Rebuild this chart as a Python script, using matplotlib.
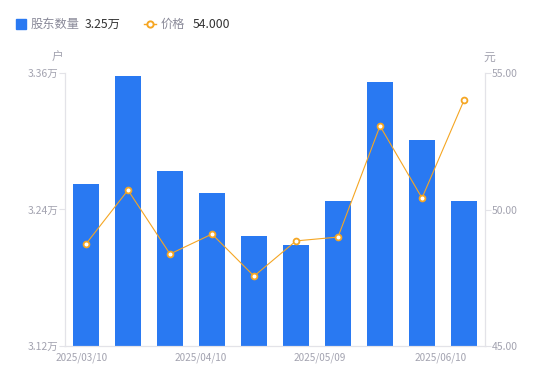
import matplotlib
matplotlib.use('Agg')
import matplotlib.pyplot as plt
import matplotlib.transforms as mtransforms
from matplotlib.lines import Line2D
from matplotlib.patches import Rectangle

plt.rcParams['font.family'] = ['Noto Sans CJK SC', 'DejaVu Sans']

dates = ['2025/03/10', '2025/03/20', '2025/03/31', '2025/04/10', '2025/04/18',
         '2025/04/30', '2025/05/09', '2025/05/20', '2025/05/30', '2025/06/10']
holders = [3.262, 3.357, 3.274, 3.2545, 3.2167, 3.2088, 3.2475, 3.352, 3.301, 3.2475]  # 万户
price = [48.74, 50.71, 48.37, 49.10, 47.56, 48.85, 48.99, 53.06, 50.42, 54.00]

left_ticks = [3.12, 3.24, 3.36]
right_ticks = [45.0, 50.0, 55.0]
shown_dates = [0, 3, 6, 9]

bar_color = '#2979F2'
line_color = '#F5A623'
axis_color = '#E3E3E8'
label_color = '#A3A3B0'

fig = plt.figure(figsize=(5.5, 3.81), dpi=100)
ax = fig.add_axes([65 / 550, 35 / 381, 420 / 550, 273 / 381])
ax2 = ax.twinx()

x = list(range(len(dates)))
ax.bar(x, holders, width=0.6, color=bar_color, zorder=2)
ax.set_ylim(left_ticks[0], left_ticks[-1])
ax.set_xlim(-0.5, len(dates) - 0.5)

ax2.plot(x, price, color=line_color, lw=0.8, marker='o', ms=4.2,
         mfc='white', mec=line_color, mew=1.3, zorder=3)
ax2.set_ylim(right_ticks[0], right_ticks[-1])

for a in (ax, ax2):
    for s in a.spines.values():
        s.set_color(axis_color)
        s.set_linewidth(0.8)
    a.spines['top'].set_visible(False)

ax.set_yticks(left_ticks)
ax.set_yticklabels([f'{v:.2f}万' for v in left_ticks])
ax2.set_yticks(right_ticks)
ax2.set_yticklabels([f'{v:.2f}' for v in right_ticks])
ax.tick_params(axis='y', colors=axis_color, labelcolor=label_color, labelsize=7.5,
               length=4, width=0.8, pad=1)
ax2.tick_params(axis='y', colors=axis_color, labelcolor=label_color, labelsize=7.5,
                length=4, width=0.8, pad=1)

ax.set_xticks([x[i] for i in shown_dates])
ax.set_xticklabels([dates[i] for i in shown_dates])
ax.tick_params(axis='x', length=0, labelsize=7.2, labelcolor=label_color, pad=5)
shifts = [-4, -11, -18, -23]
for lbl, dx in zip(ax.get_xticklabels(), shifts):
    lbl.set_transform(lbl.get_transform() +
                      mtransforms.ScaledTranslation(dx / 100, 0, fig.dpi_scale_trans))

# unit labels
fig.text(57 / 550, 1 - 57 / 381, '户', fontsize=8.5, color=label_color, ha='center', va='center')
fig.text(489 / 550, 1 - 57 / 381, '元', fontsize=8.5, color=label_color, ha='center', va='center')

# legend
fig.patches.append(Rectangle((16 / 550, 1 - 29 / 381), 10 / 550, 10 / 381, transform=fig.transFigure,
                             color=bar_color, figure=fig))
fig.text(31 / 550, 1 - 24 / 381, '股东数量', fontsize=8.8, color='#8A8A99', va='center')
fig.text(85 / 550, 1 - 24 / 381, f'{holders[-1]:.2f}万', fontsize=8.8, color='#333333', va='center')
fig.lines.append(Line2D([144 / 550, 156 / 550], [1 - 24 / 381, 1 - 24 / 381], transform=fig.transFigure,
                        color=line_color, lw=1, figure=fig))
fig.lines.append(Line2D([150 / 550], [1 - 24 / 381], transform=fig.transFigure, marker='o', ms=4.5,
                        mfc='white', mec=line_color, mew=1.4, figure=fig))
fig.text(161 / 550, 1 - 24 / 381, '价格', fontsize=8.8, color='#8A8A99', va='center')
fig.text(193 / 550, 1 - 24 / 381, f'{price[-1]:.3f}', fontsize=8.8, color='#333333', va='center')

fig.savefig('out.png', dpi=100)
